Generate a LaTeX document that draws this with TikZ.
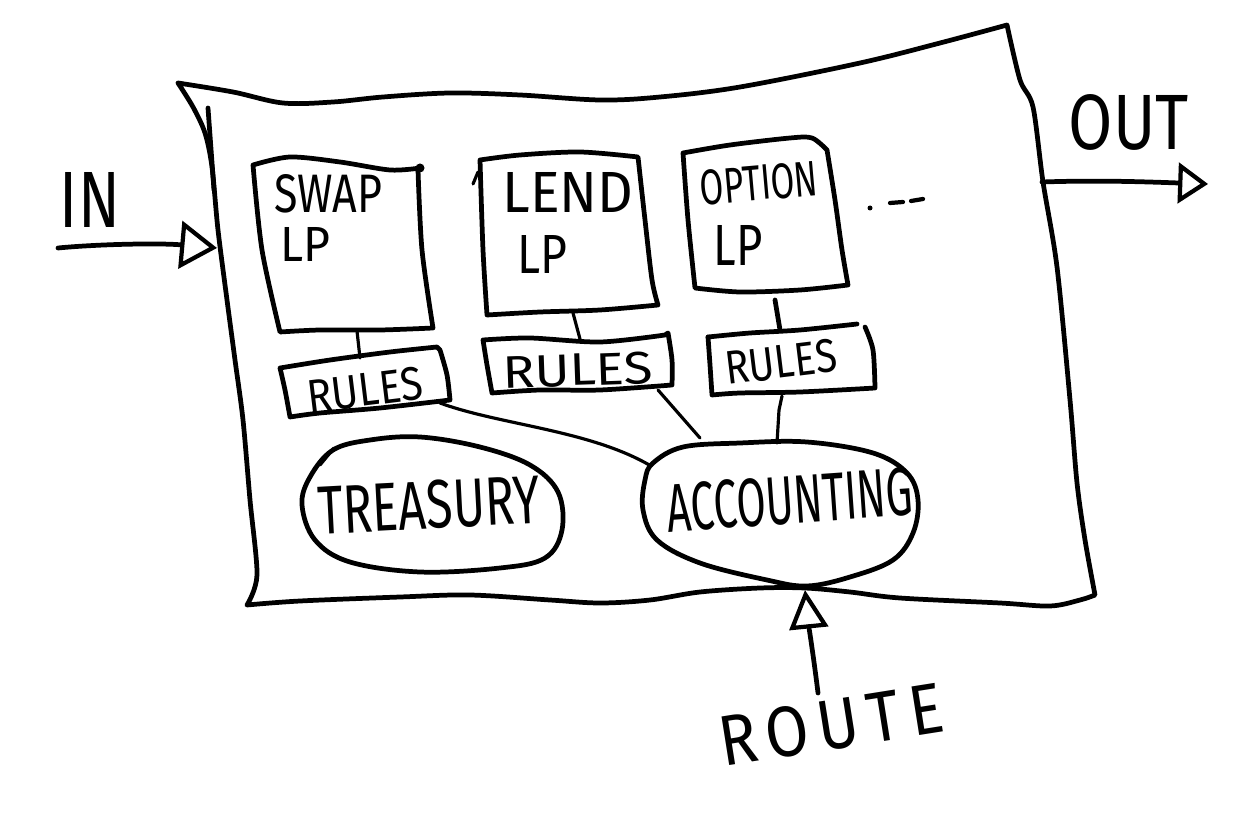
\documentclass[tikz,border=0pt]{standalone}
\usepackage{fontspec}
\usepackage{graphicx}
\setmainfont{Fira Sans}
\usetikzlibrary{arrows.meta}
\newlength\pxu
\setlength\pxu{0.02cm}
\newcommand{\hw}[3]{\resizebox{#1\pxu}{#2\pxu}{#3}}
\begin{document}
\begin{tikzpicture}[x=0.02cm,y=-0.02cm,
  pen/.style={line width=2.7pt,line cap=round,line join=round},
  thin pen/.style={line width=1.8pt,line cap=round,line join=round},
  txt/.style={inner sep=0pt,outer sep=0pt},
]
\useasboundingbox (0,0) rectangle (1246,820);

% ---- outer frame ----
\draw[pen] plot[smooth,tension=0.55] coordinates {(178,83) (233,92) (283,103) (333,102) (383,97) (450,93) (520,95) (600,100) (660,97) (740,87) (860,63) (940,43) (1007,25)}
  -- plot[smooth,tension=0.5] coordinates {(1007,25) (1020,80) (1033,107) (1043,182) (1057,267) (1070,400) (1077,483) (1085,540) (1095,595)}
  -- plot[smooth,tension=0.55] coordinates {(1095,595) (1080,600) (1050,606) (1000,603) (900,598) (850,592) (805,588) (760,588) (700,592) (650,600) (600,603) (550,600) (470,595) (400,597) (300,601) (247,605)}
  -- plot[smooth,tension=0.5] coordinates {(247,605) (257,575) (250,500) (243,420) (235,360) (227,300) (218,230) (212,167) (205,133) (193,107) (178,83)};
\draw[pen] (208,108) -- (214,190);

\coordinate (frameL) at (217,248);
\coordinate (frameR) at (1042,182);
\coordinate (frameB) at (805,590);

% ---- IN / OUT ----
\node[txt] (in) at (90,200) {\hw{60}{55}{IN}};
\coordinate (inStart) at (58,248);
\draw[pen,arrows={-{Triangle[open,length=21pt,width=27pt,line width=2.4pt]}}] (inStart) .. controls (100,244) and (160,243) .. (frameL);

\node[txt] (out) at (1129,122) {\hw{120}{55}{OUT}};
\coordinate (outEnd) at (1208,184);
\draw[pen,arrows={-{Triangle[open,length=17pt,width=23pt,line width=2.4pt]}}] (frameR) .. controls (1100,180) and (1150,182) .. (outEnd);

% ---- LP boxes ----
\draw[pen] plot[smooth,tension=0.5] coordinates {(253,165) (290,157) (340,162) (390,170) (420,168)}
  -- plot[smooth] coordinates {(418,170) (422,250) (433,328)}
  -- plot[smooth] coordinates {(433,328) (380,330) (320,330) (280,332)}
  -- plot[smooth] coordinates {(280,332) (262,250) (253,165)};
\fill (420,168) circle (4.5);
\node[txt] (swap) at (328,194) {\hw{108}{38}{SWAP}};
\node[txt] (swaplp) at (305,244) {\hw{50}{34}{LP}};
\coordinate (swapB) at (357,331);

\draw[pen] plot[smooth,tension=0.5] coordinates {(480,160) (520,155) (580,152) (638,157)}
  -- plot[smooth] coordinates {(638,157) (645,220) (652,280) (658,305)}
  -- plot[smooth] coordinates {(658,305) (600,310) (540,312) (487,315)}
  -- plot[smooth] coordinates {(487,315) (483,250) (480,160)};
\draw[thin pen] (473,184) -- (478,172);
\node[txt] (lend) at (568,192) {\hw{131}{40}{LEND}};
\node[txt] (lendlp) at (542,254) {\hw{50}{38}{LP}};
\coordinate (lendB) at (573,313);

\draw[pen] plot[smooth,tension=0.5] coordinates {(683,153) (730,145) (790,138) (812,138) (827,150)}
  -- plot[smooth] coordinates {(827,150) (835,200) (842,250) (848,285)}
  -- plot[smooth] coordinates {(848,285) (800,290) (740,292) (695,288)}
  -- plot[smooth] coordinates {(695,288) (688,220) (683,153)};
\node[txt,rotate=5] (option) at (759,183) {\hw{118}{35}{OPTION}};
\node[txt] (optionlp) at (738,245) {\hw{49}{40}{LP}};
\coordinate (optionB) at (775,300);

% more boxes hinted by dots
\fill (870,208) circle (2.5);
\draw[thin pen,line width=2.4pt] (890,203) -- (903,202) (911,201) -- (923,199);

% ---- RULES boxes ----
\draw[pen] plot[smooth,tension=0.5] coordinates {(280,368) (330,360) (390,352) (437,347)}
  -- plot[smooth] coordinates {(440,350) (447,375) (450,400)}
  -- plot[smooth] coordinates {(450,400) (380,408) (320,413) (290,417)}
  -- plot[smooth] coordinates {(290,417) (285,390) (280,368)};
\node[txt,rotate=7] (rules1) at (365,390) {\hw{116}{33}{RULES}};
\coordinate (rules1T) at (360,358);
\coordinate (rules1R) at (440,403);

\draw[pen] plot[smooth,tension=0.5] coordinates {(483,340) (530,338) (600,342) (665,335)}
  -- plot[smooth] coordinates {(668,333) (672,360) (672,385)}
  -- plot[smooth] coordinates {(672,385) (600,390) (540,390) (492,393)}
  -- plot[smooth] coordinates {(492,393) (487,365) (483,340)};
\node[txt,rotate=2] (rules2) at (578,370) {\hw{150}{32}{RULES}};
\coordinate (rules2T) at (580,339);
\coordinate (rules2R) at (658,390);

\draw[pen] plot[smooth,tension=0.5] coordinates {(708,337) (750,333) (800,330) (857,324)};
\draw[pen] plot[smooth] coordinates {(865,327) (873,350) (875,388)}
  -- plot[smooth] coordinates {(875,388) (800,392) (740,393) (712,395)}
  -- plot[smooth] coordinates {(712,395) (710,365) (708,337)};
\node[txt,rotate=7] (rules3) at (781,362) {\hw{112}{33}{RULES}};
\coordinate (rules3T) at (780,330);
\coordinate (rules3B) at (782,396);

% ---- TREASURY ----
\draw[pen] plot[smooth cycle,tension=0.6] coordinates {(333,450) (370,440) (420,437) (480,447) (530,465) (558,492) (562,530) (545,558) (500,568) (420,572) (350,562) (315,540) (302,505) (310,477)};
\draw[thin pen] (320,465) -- (334,448);
\node[txt,rotate=3] (treasury) at (429,505) {\hw{222}{48}{TREASURY}};

% ---- ACCOUNTING ----
\draw[pen] plot[smooth cycle,tension=0.6] coordinates {(683,447) (740,443) (807,442) (873,453) (907,473) (918,500) (913,533) (893,560) (850,577) (807,586) (767,580) (700,563) (657,540) (643,510) (645,480) (653,463)};
\node[txt,rotate=4] (accounting) at (790,500) {\hw{246}{48}{ACCOUNTING}};
\coordinate (accL) at (651,466);
\coordinate (accT1) at (700,438);
\coordinate (accT2) at (777,443);

% ---- connectors ----
\draw[thin pen] (swapB) -- (rules1T);
\draw[thin pen] (lendB) -- (rules2T);
\draw[pen] (optionB) -- (rules3T);
\draw[thin pen] (rules1R) .. controls (500,425) and (590,430) .. (accL);
\draw[thin pen] (rules2R) -- (accT1);
\draw[thin pen] (rules3B) -- (779,410) -- (accT2);

% ---- ROUTE ----
\node[txt,rotate=9] (route) at (831,725) {\hw{226}{50}{\addfontfeature{LetterSpace=15}ROUTE}};
\coordinate (routeTop) at (818,693);
\draw[pen,arrows={-{Triangle[open,length=22pt,width=22pt,line width=2.4pt]}}] (routeTop) .. controls (814,660) and (808,620) .. (frameB);
\end{tikzpicture}
\end{document}
